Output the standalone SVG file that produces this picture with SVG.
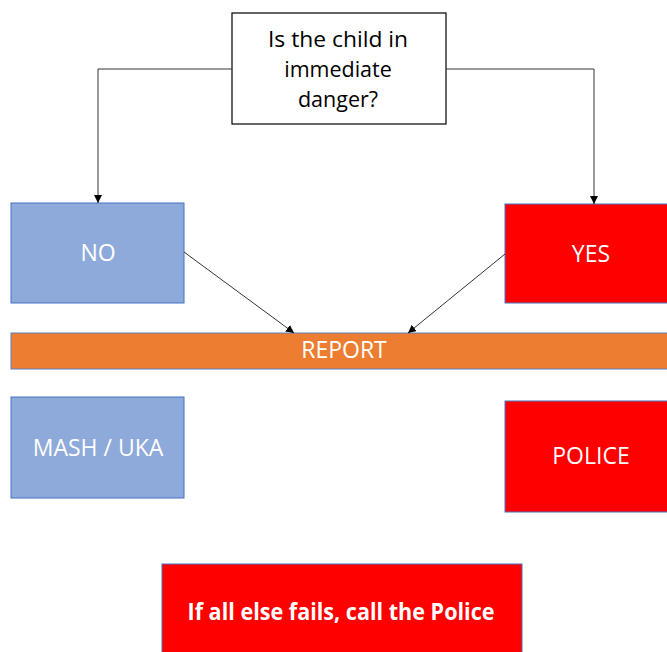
<svg xmlns="http://www.w3.org/2000/svg" width="667" height="652" viewBox="0 0 667 652">
<style>
.t{font-family:"Open Sans","Liberation Sans",sans-serif;text-anchor:middle;fill:#fff;font-size:23px}
.q{fill:#000;font-size:21.5px}
.blue{fill:#8EAADB;stroke:#4472C4;stroke-width:1}
.red{fill:#FF0000;stroke:#4472C4;stroke-width:1}
.c{fill:none;stroke:#333;stroke-width:1}
</style>
<defs>
<marker id="a" viewBox="0 0 10 10" refX="10" refY="5" markerWidth="8" markerHeight="8" orient="auto" markerUnits="userSpaceOnUse"><path d="M0,0 L10,5 L0,10 z" fill="#000"/></marker>
</defs>
<rect width="667" height="652" fill="#fff"/>
<g id="question">
<rect x="232" y="13" width="214" height="111" fill="#fff" stroke="#000" stroke-width="1.2"/>
<text class="t q" x="338" y="47" textLength="140" lengthAdjust="spacingAndGlyphs">Is the child in</text>
<text class="t q" x="338" y="77">immediate</text>
<text class="t q" x="338" y="107">danger?</text>
</g>
<g id="no">
<rect class="blue" x="11" y="203" width="173" height="100"/>
<text class="t" x="98" y="261">NO</text>
</g>
<g id="yes">
<rect class="red" x="505" y="204" width="163" height="99"/>
<text class="t" x="591" y="262">YES</text>
</g>
<g id="report">
<rect x="11" y="333" width="657" height="36" fill="#ED7D31" stroke="#5B7FBF" stroke-width="1"/>
<text class="t" x="344" y="358">REPORT</text>
</g>
<g id="mash">
<rect class="blue" x="11" y="397" width="173" height="101"/>
<text class="t" x="98" y="456">MASH / UKA</text>
</g>
<g id="police">
<rect class="red" x="505" y="401" width="163" height="111"/>
<text class="t" x="591" y="464">POLICE</text>
</g>
<g id="fallback">
<rect class="red" x="162" y="564" width="360" height="90"/>
<text class="t" x="341" y="620" font-size="22" font-weight="bold" textLength="307" lengthAdjust="spacingAndGlyphs">If all else fails, call the Police</text>
</g>
<g id="connectors">
<path class="c" d="M232,69 H98 V203" marker-end="url(#a)"/>
<path class="c" d="M446,69 H594 V204" marker-end="url(#a)"/>
<path class="c" d="M184,252 L294,333" marker-end="url(#a)"/>
<path class="c" d="M505,254 L408,333" marker-end="url(#a)"/>
</g>
</svg>
